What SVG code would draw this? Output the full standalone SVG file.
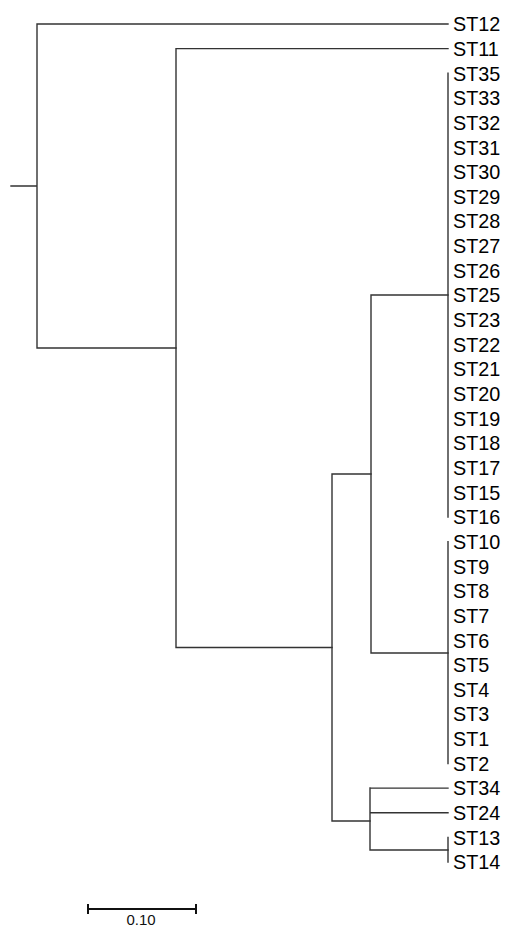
<svg xmlns="http://www.w3.org/2000/svg" width="506" height="927" viewBox="0 0 506 927">
<style>
.br{fill:none;stroke:#333;stroke-width:1.4;stroke-linecap:square}
.lb{font-family:"Liberation Sans",Arial,sans-serif;font-size:19.8px;fill:#000}
.sc{font-family:"Liberation Sans",Arial,sans-serif;font-size:15px;fill:#111}
</style>
<rect width="506" height="927" fill="#fff"/>
<g id="connectors" class="br">
<path d="M11,186H37M37,24V348M37,24H448M37,348H176"/>
<path d="M176,48.6V647.5M176,48.6H448M176,647.5H332"/>
<path d="M332,474V821M332,474H371M332,821H370"/>
<path d="M371,295V653M371,295H448M371,653H448"/>
<path d="M448,73.3V517"/>
<path d="M448,541.6V763.5"/>
<path d="M370,788V850M370,788.1H448M370,812.8H448M370,850H448"/>
<path d="M448,837.5V862.1"/>
</g>
<g id="ST12"><text class="lb" x="453" y="31.2">ST12</text></g>
<g id="ST11"><text class="lb" x="453" y="55.8">ST11</text></g>
<g id="ST35"><text class="lb" x="453" y="80.5">ST35</text></g>
<g id="ST33"><text class="lb" x="453" y="105.2">ST33</text></g>
<g id="ST32"><text class="lb" x="453" y="129.8">ST32</text></g>
<g id="ST31"><text class="lb" x="453" y="154.5">ST31</text></g>
<g id="ST30"><text class="lb" x="453" y="179.1">ST30</text></g>
<g id="ST29"><text class="lb" x="453" y="203.8">ST29</text></g>
<g id="ST28"><text class="lb" x="453" y="228.4">ST28</text></g>
<g id="ST27"><text class="lb" x="453" y="253.1">ST27</text></g>
<g id="ST26"><text class="lb" x="453" y="277.7">ST26</text></g>
<g id="ST25"><text class="lb" x="453" y="302.4">ST25</text></g>
<g id="ST23"><text class="lb" x="453" y="327">ST23</text></g>
<g id="ST22"><text class="lb" x="453" y="351.7">ST22</text></g>
<g id="ST21"><text class="lb" x="453" y="376.3">ST21</text></g>
<g id="ST20"><text class="lb" x="453" y="401">ST20</text></g>
<g id="ST19"><text class="lb" x="453" y="425.6">ST19</text></g>
<g id="ST18"><text class="lb" x="453" y="450.3">ST18</text></g>
<g id="ST17"><text class="lb" x="453" y="474.9">ST17</text></g>
<g id="ST15"><text class="lb" x="453" y="499.6">ST15</text></g>
<g id="ST16"><text class="lb" x="453" y="524.2">ST16</text></g>
<g id="ST10"><text class="lb" x="453" y="548.8">ST10</text></g>
<g id="ST9"><text class="lb" x="453" y="573.5">ST9</text></g>
<g id="ST8"><text class="lb" x="453" y="598.2">ST8</text></g>
<g id="ST7"><text class="lb" x="453" y="622.8">ST7</text></g>
<g id="ST6"><text class="lb" x="453" y="647.5">ST6</text></g>
<g id="ST5"><text class="lb" x="453" y="672.1">ST5</text></g>
<g id="ST4"><text class="lb" x="453" y="696.8">ST4</text></g>
<g id="ST3"><text class="lb" x="453" y="721.4">ST3</text></g>
<g id="ST1"><text class="lb" x="453" y="746.1">ST1</text></g>
<g id="ST2"><text class="lb" x="453" y="770.7">ST2</text></g>
<g id="ST34"><text class="lb" x="453" y="795.4">ST34</text></g>
<g id="ST24"><text class="lb" x="453" y="820">ST24</text></g>
<g id="ST13"><text class="lb" x="453" y="844.7">ST13</text></g>
<g id="ST14"><text class="lb" x="453" y="869.3">ST14</text></g>
<g id="scalebar">
<path d="M88,909H196M88,904V914M196,904V914" fill="none" stroke="#111" stroke-width="2"/>
<text class="sc" x="141" y="925" text-anchor="middle">0.10</text>
</g>
</svg>
